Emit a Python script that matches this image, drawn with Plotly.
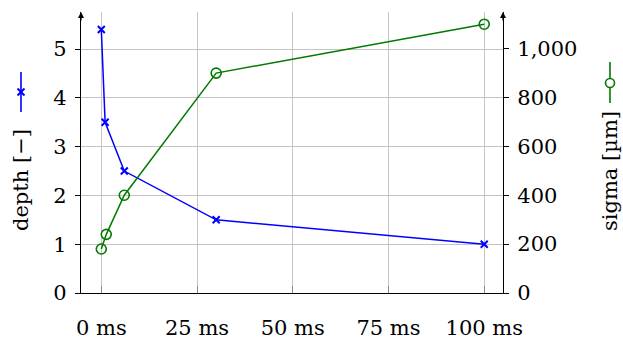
import plotly.graph_objects as go

# Measurements: exposure time vs. depth and sigma
depth_time_ms = [0, 1, 6, 30, 100]
depth_values = [5.4, 3.5, 2.5, 1.5, 1.0]

sigma_time_ms = [0, 1.3, 6, 30, 100]
sigma_values = [180, 240, 400, 900, 1100]

x_tick_values = [0, 25, 50, 75, 100]
x_tick_labels = ["0 ms", "25 ms", "50 ms", "75 ms", "100 ms"]
depth_ticks = [0, 1, 2, 3, 4, 5]
sigma_ticks = [0, 200, 400, 600, 800, 1000]

BLUE = "#0000ff"
GREEN = "#007a00"
GRID = "#c4c4c4"
FONT = "DejaVu Serif"
FS = 21

W, H = 623, 344
ML, MR, MT, MB = 81, 120, 12, 51
PW, PH = W - ML - MR, H - MT - MB


def px(x):
    return (x - ML) / PW


def py(y):
    return (MT + PH - y) / PH


fig = go.Figure()
fig.add_trace(go.Scatter(
    x=depth_time_ms, y=depth_values, mode="lines+markers", name="depth",
    line=dict(color=BLUE, width=1.5),
    marker=dict(symbol="x-thin", size=7, line=dict(color=BLUE, width=2)),
    yaxis="y", showlegend=False,
))
fig.add_trace(go.Scatter(
    x=sigma_time_ms, y=sigma_values, mode="lines+markers", name="sigma",
    line=dict(color=GREEN, width=1.5),
    marker=dict(symbol="circle-open", size=10, color=GREEN, line=dict(color=GREEN, width=1.6)),
    yaxis="y2", showlegend=False,
))

fig.update_layout(
    width=W, height=H,
    margin=dict(l=ML, r=MR, t=MT, b=MB),
    paper_bgcolor="white", plot_bgcolor="white",
    font=dict(family=FONT, size=FS, color="black"),
    xaxis=dict(
        range=[-5.3, 104.9], tickvals=x_tick_values, ticktext=x_tick_labels,
        showgrid=True, gridcolor=GRID, gridwidth=1, zeroline=False,
        showline=True, linecolor="black", linewidth=1.2,
        ticks="inside", ticklen=7, tickcolor="#8a8a8a", tickwidth=1,
        ticklabelstandoff=16, automargin=False,
    ),
    yaxis=dict(
        range=[0, 5.76], tickvals=depth_ticks,
        showgrid=True, gridcolor=GRID, gridwidth=1, zeroline=False,
        showline=True, linecolor="black", linewidth=1.2,
        ticks="outside", ticklen=5, tickcolor="black", tickwidth=1,
        ticklabelstandoff=4, automargin=False,
    ),
    yaxis2=dict(
        range=[0, 1150], tickvals=sigma_ticks, tickformat=",",
        overlaying="y", side="right", showgrid=False, zeroline=False,
        showline=True, linecolor="black", linewidth=1.2,
        ticks="outside", ticklen=5, tickcolor="black", tickwidth=1,
        ticklabelstandoff=4, automargin=False,
    ),
)

# Arrow tips on top of both vertical axes
for xa in (0, 1):
    fig.add_annotation(
        x=xa, y=1.0, xref="paper", yref="paper", ax=0, ay=10, axref="pixel", ayref="pixel",
        showarrow=True, arrowhead=2, arrowsize=1, arrowwidth=1.2, arrowcolor="black", text="",
    )

# Axis titles (rotated) with their series glyphs
fig.add_annotation(
    x=px(21), y=py(180), xref="paper", yref="paper", text="depth [−]", textangle=-90,
    showarrow=False, xanchor="center", yanchor="middle", font=dict(family=FONT, size=FS),
)
fig.add_annotation(
    x=px(610), y=py(171), xref="paper", yref="paper", text="sigma [µm]", textangle=-90,
    showarrow=False, xanchor="center", yanchor="middle", font=dict(family=FONT, size=FS),
)

# depth glyph: vertical line with x marker
fig.add_shape(type="line", xref="paper", yref="paper", x0=px(21), x1=px(21), y0=py(72), y1=py(112),
              line=dict(color=BLUE, width=1.6))
for d in (1, -1):
    fig.add_shape(type="line", xref="paper", yref="paper",
                  x0=px(21 - 3.5), x1=px(21 + 3.5), y0=py(92 - 3.5 * d), y1=py(92 + 3.5 * d),
                  line=dict(color=BLUE, width=2))

# sigma glyph: vertical line with open circle
fig.add_shape(type="line", xref="paper", yref="paper", x0=px(610), x1=px(610), y0=py(62), y1=py(103),
              line=dict(color=GREEN, width=1.6))
fig.add_shape(type="circle", xref="paper", yref="paper", x0=px(605.5), x1=px(614.5), y0=py(78.5), y1=py(87.5),
              line=dict(color=GREEN, width=1.6), fillcolor="white")

fig.write_html("out.html")
